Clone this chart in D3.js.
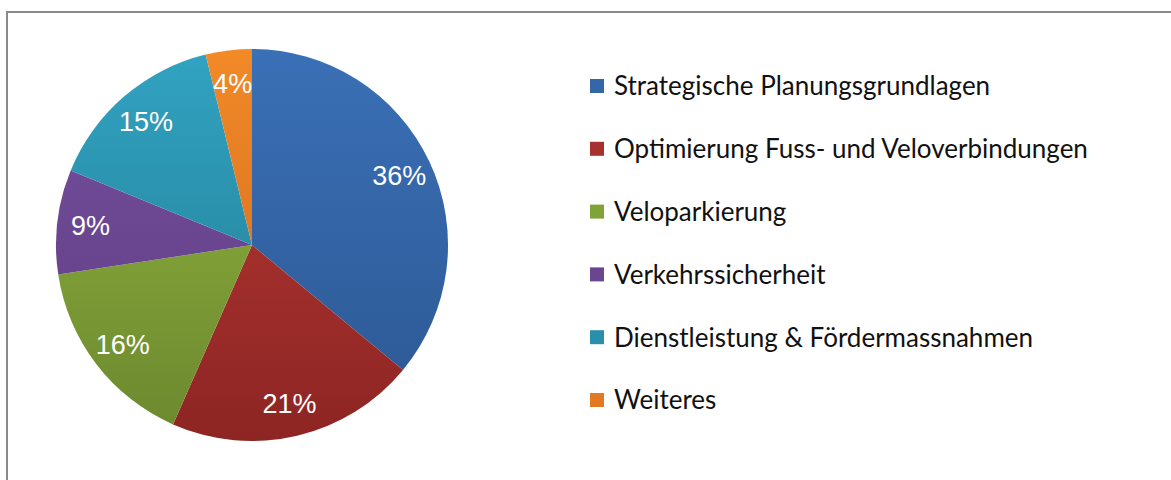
<!DOCTYPE html>
<html>
<head>
<meta charset="utf-8">
<script src="https://cdn.jsdelivr.net/npm/d3@7"></script>
<style>
  body { margin: 0; background: #fff; }
  svg { display: block; }
</style>
</head>
<body>
<div id="chart"></div>
<script>
const categories = [
  "Strategische Planungsgrundlagen",
  "Optimierung Fuss- und Veloverbindungen",
  "Veloparkierung",
  "Verkehrssicherheit",
  "Dienstleistung & Fördermassnahmen",
  "Weiteres"
];
const shares = [36, 20.6, 16, 8.6, 15, 3.8];
const colorsTop = ["#3a70b6", "#b83936", "#93b640", "#7650a0", "#31a3c2", "#f28a28"];
const colorsBottom = ["#2c5792", "#8d2523", "#6b882e", "#5e3c80", "#227a8f", "#cc661b"];
const legendColors = ["#3566a8", "#a8302e", "#7fa336", "#6a4690", "#2a8fab", "#e27a22"];

const width = 1171, height = 480;
const cx = 252, cy = 245, r = 196;

const svg = d3.select("#chart").append("svg")
  .attr("width", width).attr("height", height);

// frame
svg.append("rect")
  .attr("x", 7).attr("y", 12)
  .attr("width", 1300).attr("height", 600)
  .attr("fill", "none").attr("stroke", "#8a8a8a").attr("stroke-width", 2);

const data = categories.map((c, i) => ({ name: c, value: shares[i], i }));
const total = d3.sum(shares);

const pie = d3.pie().value(d => d.value).sort(null);
const arc = d3.arc().innerRadius(0).outerRadius(r);
const labelArc = d3.arc().innerRadius(r * 0.83).outerRadius(r * 0.83);

const defs = svg.append("defs");
data.forEach((d, i) => {
  const g = defs.append("linearGradient")
    .attr("id", "grad" + i)
    .attr("gradientUnits", "userSpaceOnUse")
    .attr("x1", 0).attr("y1", -r).attr("x2", 0).attr("y2", r);
  g.append("stop").attr("offset", "0%").attr("stop-color", colorsTop[i]);
  g.append("stop").attr("offset", "100%").attr("stop-color", colorsBottom[i]);
});

const g = svg.append("g").attr("transform", `translate(${cx},${cy})`);

g.selectAll("path.slice")
  .data(pie(data))
  .join("path")
  .attr("class", "slice")
  .attr("d", arc)
  .attr("fill", d => `url(#grad${d.data.i})`);

const fmt = d3.format(".0%");
g.selectAll("text.pct")
  .data(pie(data))
  .join("text")
  .attr("class", "pct")
  .attr("transform", d => `translate(${labelArc.centroid(d)})`)
  .attr("text-anchor", "middle")
  .attr("dy", "0.36em")
  .attr("fill", "#fff")
  .style("font-family", "'Liberation Sans', Arial, sans-serif")
  .style("font-size", "27px")
  .text(d => fmt(d.data.value / total));

// legend
const legendY = d3.scalePoint().domain(categories).range([86, 400]);
const legend = svg.append("g").selectAll("g")
  .data(data)
  .join("g")
  .attr("transform", d => `translate(590,${legendY(d.name)})`);

legend.append("rect")
  .attr("x", 0).attr("y", -7)
  .attr("width", 14).attr("height", 14)
  .attr("fill", d => legendColors[d.i]);

legend.append("text")
  .attr("x", 24)
  .attr("dy", "0.36em")
  .attr("fill", "#111")
  .style("font-family", "Lato, 'Open Sans', sans-serif")
  .style("font-size", "26px")
  .text(d => d.name);
</script>
</body>
</html>
